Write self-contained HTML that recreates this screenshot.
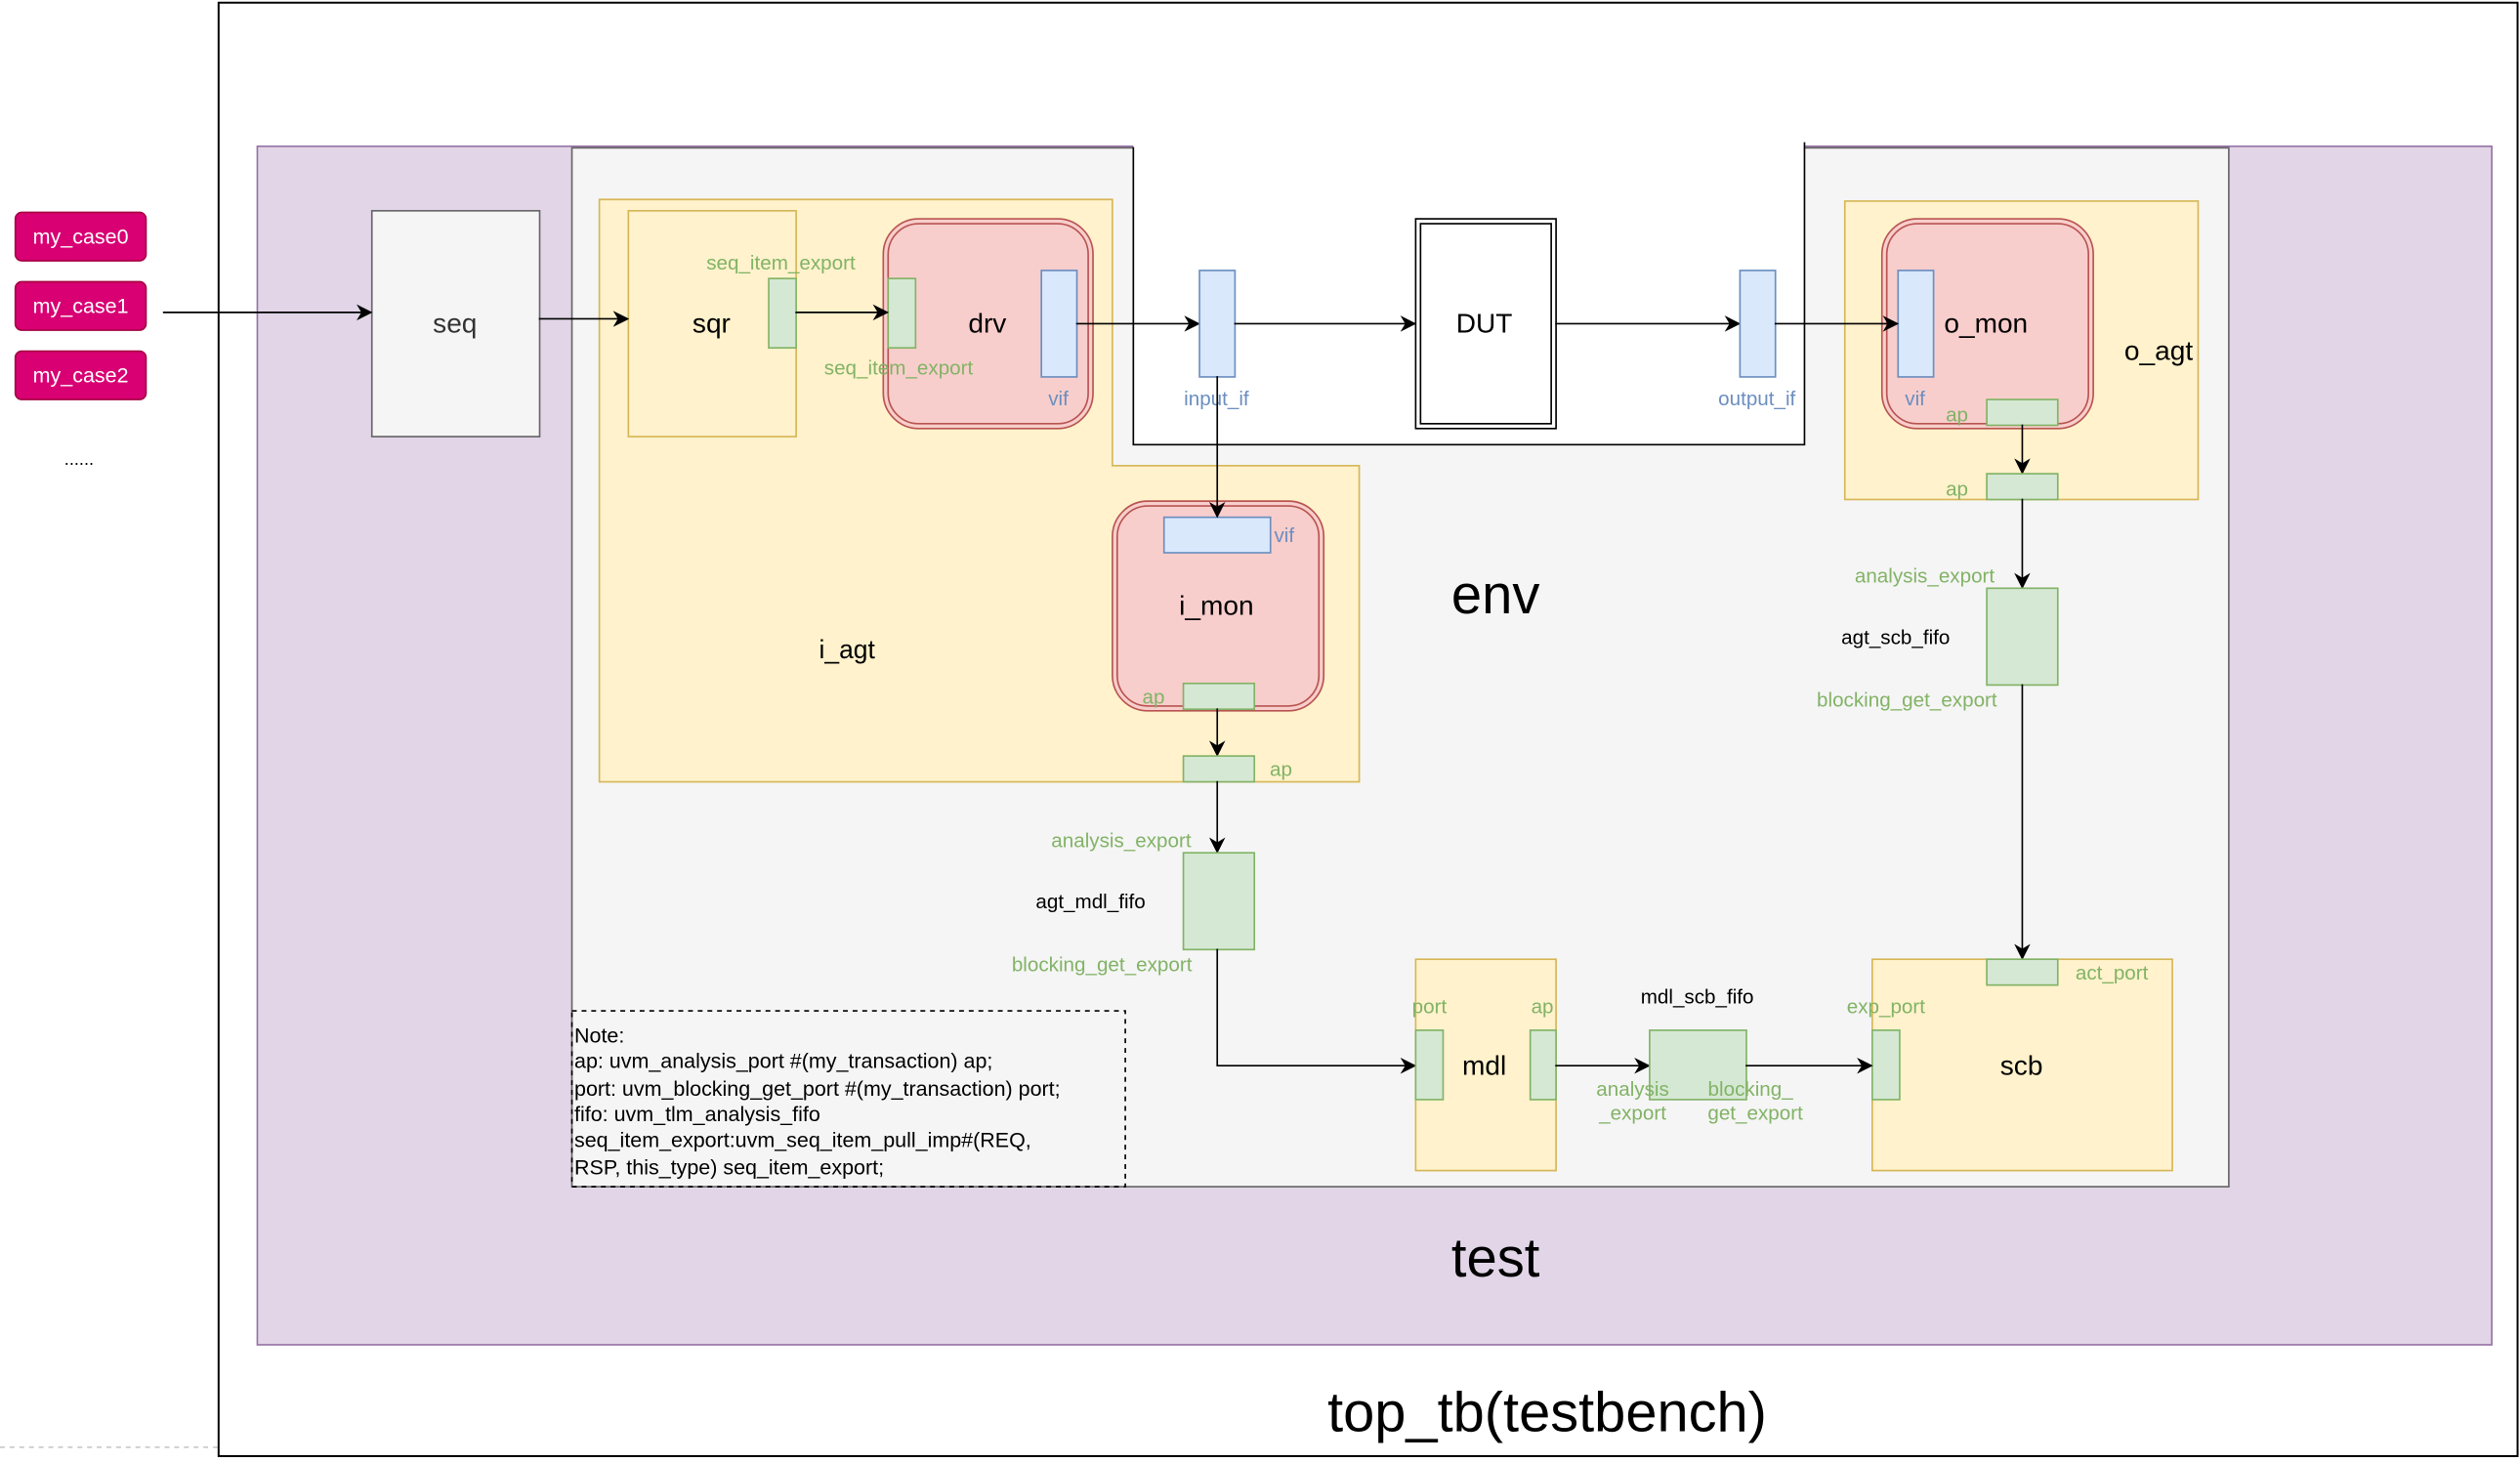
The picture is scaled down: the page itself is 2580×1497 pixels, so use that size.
<!DOCTYPE html>
<html><head><meta charset="utf-8"><style>html,body{margin:0;padding:0;background:#fff}svg{display:block}text{font-family:"Liberation Sans",Arial,sans-serif}</style></head>
<body>
<svg width="2580" height="1497" viewBox="0 0 1562 906" xmlns="http://www.w3.org/2000/svg">
<defs><marker id="a" markerWidth="10" markerHeight="10" refX="9" refY="5" orient="auto" markerUnits="userSpaceOnUse"><path d="M0,0 L10,5 L0,10 L3,5 z" fill="#000"/></marker></defs>
<rect x="0" y="0" width="1562" height="906" fill="#fff"/>
<line x1="0" y1="897" x2="135" y2="897" stroke="#ccc" stroke-dasharray="3,3"/>
<rect x="135.5" y="1.5" width="1425" height="901" fill="#fff" stroke="#000" stroke-width="1.2"/>
<rect x="159.5" y="90.5" width="1385" height="743" fill="#e1d5e7" stroke="#9673a6"/>
<rect x="354.5" y="91.5" width="1027" height="644" fill="#f5f5f5" stroke="#666"/>
<rect x="702.5" y="86" width="416" height="189.5" fill="#fff" stroke="none"/>
<polyline points="702.5,91 702.5,275.5 1118.5,275.5 1118.5,88" fill="none" stroke="#000"/>
<!-- i_agt -->
<polygon points="371.5,123.5 689.5,123.5 689.5,288.5 842.5,288.5 842.5,484.5 371.5,484.5" fill="#fff2cc" stroke="#d6b656"/>
<text x="525" y="408" font-size="16" text-anchor="middle">i_agt</text>
<rect x="389.5" y="130.5" width="104" height="140" fill="#fff2cc" stroke="#d6b656"/>
<text x="441" y="206" font-size="17" text-anchor="middle">sqr</text>
<rect x="230.5" y="130.5" width="104" height="140" fill="#f5f5f5" stroke="#666"/>
<text x="282" y="206" font-size="17" text-anchor="middle" fill="#333">seq</text>
<!-- my cases -->
<rect x="9.5" y="131.5" width="81" height="30" rx="4" fill="#d80073" stroke="#a50040"/>
<text x="50" y="151" font-size="13" fill="#fff" text-anchor="middle">my_case0</text>
<rect x="9.5" y="174.5" width="81" height="30" rx="4" fill="#d80073" stroke="#a50040"/>
<text x="50" y="194" font-size="13" fill="#fff" text-anchor="middle">my_case1</text>
<rect x="9.5" y="217.5" width="81" height="30" rx="4" fill="#d80073" stroke="#a50040"/>
<text x="50" y="237" font-size="13" fill="#fff" text-anchor="middle">my_case2</text>
<text x="49" y="288" font-size="11" text-anchor="middle">......</text>
<line x1="101" y1="193.5" x2="230" y2="193.5" stroke="#000" marker-end="url(#a)"/>
<line x1="334" y1="197.5" x2="389" y2="197.5" stroke="#000" marker-end="url(#a)"/>
<rect x="476.5" y="172.5" width="17" height="43" fill="#d5e8d4" stroke="#82b366"/>
<text x="484" y="167" font-size="12.5" fill="#82b366" text-anchor="middle">seq_item_export</text>
<!-- drv -->
<rect x="547.5" y="135.5" width="130" height="130" rx="22" fill="#f8cecc" stroke="#b85450"/>
<rect x="550.5" y="138.5" width="124" height="124" rx="19" fill="none" stroke="#b85450"/>
<rect x="550.5" y="172.5" width="17" height="43" fill="#d5e8d4" stroke="#82b366"/>
<text x="557" y="232" font-size="12.5" fill="#82b366" text-anchor="middle">seq_item_export</text>
<rect x="645.5" y="167.5" width="22" height="66" fill="#dae8fc" stroke="#6c8ebf"/>
<text x="656" y="251" font-size="12.5" fill="#6c8ebf" text-anchor="middle">vif</text>
<text x="612" y="206" font-size="17" text-anchor="middle">drv</text>
<line x1="493" y1="193.5" x2="550" y2="193.5" stroke="#000" marker-end="url(#a)"/>
<line x1="667" y1="200.5" x2="743" y2="200.5" stroke="#000" marker-end="url(#a)"/>
<rect x="743.5" y="167.5" width="22" height="66" fill="#dae8fc" stroke="#6c8ebf"/>
<text x="754" y="251" font-size="12.5" fill="#6c8ebf" text-anchor="middle">input_if</text>
<line x1="765" y1="200.5" x2="877" y2="200.5" stroke="#000" marker-end="url(#a)"/>
<rect x="877.5" y="135.5" width="87" height="130" fill="#fff" stroke="#000"/>
<rect x="880.5" y="138.5" width="81" height="124" fill="none" stroke="#000"/>
<text x="920" y="206" font-size="17" text-anchor="middle">DUT</text>
<line x1="964" y1="200.5" x2="1078" y2="200.5" stroke="#000" marker-end="url(#a)"/>
<rect x="1078.5" y="167.5" width="22" height="66" fill="#dae8fc" stroke="#6c8ebf"/>
<text x="1089" y="251" font-size="12.5" fill="#6c8ebf" text-anchor="middle">output_if</text>
<!-- o_agt -->
<rect x="1143.5" y="124.5" width="219" height="185" fill="#fff2cc" stroke="#d6b656"/>
<text x="1338" y="223" font-size="17" text-anchor="middle">o_agt</text>
<rect x="1166.5" y="135.5" width="131" height="130" rx="22" fill="#f8cecc" stroke="#b85450"/>
<rect x="1169.5" y="138.5" width="125" height="124" rx="19" fill="none" stroke="#b85450"/>
<rect x="1176.5" y="167.5" width="22" height="66" fill="#dae8fc" stroke="#6c8ebf"/>
<text x="1187" y="251" font-size="12.5" fill="#6c8ebf" text-anchor="middle">vif</text>
<text x="1231" y="206" font-size="17" text-anchor="middle">o_mon</text>
<line x1="1100" y1="200.5" x2="1176" y2="200.5" stroke="#000" marker-end="url(#a)"/>
<rect x="1231.5" y="247.5" width="44" height="16" fill="#d5e8d4" stroke="#82b366"/>
<text x="1213" y="261" font-size="12.5" fill="#82b366" text-anchor="middle">ap</text>
<line x1="1253.5" y1="263" x2="1253.5" y2="293" stroke="#000" marker-end="url(#a)"/>
<rect x="1231.5" y="293.5" width="44" height="16" fill="#d5e8d4" stroke="#82b366"/>
<text x="1213" y="307" font-size="12.5" fill="#82b366" text-anchor="middle">ap</text>
<line x1="1253.5" y1="309" x2="1253.5" y2="364" stroke="#000" marker-end="url(#a)"/>
<rect x="1231.5" y="364.5" width="44" height="60" fill="#d5e8d4" stroke="#82b366"/>
<text x="1193" y="361" font-size="12.5" fill="#82b366" text-anchor="middle">analysis_export</text>
<text x="1175" y="399" font-size="12.5" text-anchor="middle">agt_scb_fifo</text>
<text x="1182" y="438" font-size="12.5" fill="#82b366" text-anchor="middle">blocking_get_export</text>
<line x1="1253.5" y1="424" x2="1253.5" y2="594" stroke="#000" marker-end="url(#a)"/>
<!-- scb -->
<rect x="1160.5" y="594.5" width="186" height="131" fill="#fff2cc" stroke="#d6b656"/>
<rect x="1231.5" y="594.5" width="44" height="16" fill="#d5e8d4" stroke="#82b366"/>
<text x="1309" y="607" font-size="12.5" fill="#82b366" text-anchor="middle">act_port</text>
<rect x="1160.5" y="638.5" width="17" height="43" fill="#d5e8d4" stroke="#82b366"/>
<text x="1169" y="628" font-size="12.5" fill="#82b366" text-anchor="middle">exp_port</text>
<text x="1253" y="666" font-size="17" text-anchor="middle">scb</text>
<!-- i_mon -->
<rect x="689.5" y="310.5" width="131" height="130" rx="22" fill="#f8cecc" stroke="#b85450"/>
<rect x="692.5" y="313.5" width="125" height="124" rx="19" fill="none" stroke="#b85450"/>
<rect x="721.5" y="320.5" width="66" height="22" fill="#dae8fc" stroke="#6c8ebf"/>
<text x="796" y="336" font-size="12.5" fill="#6c8ebf" text-anchor="middle">vif</text>
<text x="754" y="381" font-size="17" text-anchor="middle">i_mon</text>
<rect x="733.5" y="423.5" width="44" height="16" fill="#d5e8d4" stroke="#82b366"/>
<text x="715" y="436" font-size="12.5" fill="#82b366" text-anchor="middle">ap</text>
<line x1="754.5" y1="233" x2="754.5" y2="320" stroke="#000" marker-end="url(#a)"/>
<line x1="754.5" y1="439" x2="754.5" y2="468" stroke="#000" marker-end="url(#a)"/>
<rect x="733.5" y="468.5" width="44" height="16" fill="#d5e8d4" stroke="#82b366"/>
<text x="794" y="481" font-size="12.5" fill="#82b366" text-anchor="middle">ap</text>
<text x="927" y="380" font-size="34" text-anchor="middle">env</text>
<line x1="754.5" y1="484" x2="754.5" y2="528" stroke="#000" marker-end="url(#a)"/>
<rect x="733.5" y="528.5" width="44" height="60" fill="#d5e8d4" stroke="#82b366"/>
<text x="695" y="525" font-size="12.5" fill="#82b366" text-anchor="middle">analysis_export</text>
<text x="676" y="563" font-size="12.5" text-anchor="middle">agt_mdl_fifo</text>
<text x="683" y="602" font-size="12.5" fill="#82b366" text-anchor="middle">blocking_get_export</text>
<polyline points="754.5,588 754.5,660.5 877,660.5" fill="none" stroke="#000" marker-end="url(#a)"/>
<!-- mdl -->
<rect x="877.5" y="594.5" width="87" height="131" fill="#fff2cc" stroke="#d6b656"/>
<rect x="877.5" y="638.5" width="17" height="43" fill="#d5e8d4" stroke="#82b366"/>
<text x="886" y="628" font-size="12.5" fill="#82b366" text-anchor="middle">port</text>
<rect x="948.5" y="638.5" width="16" height="43" fill="#d5e8d4" stroke="#82b366"/>
<text x="956" y="628" font-size="12.5" fill="#82b366" text-anchor="middle">ap</text>
<text x="920" y="666" font-size="17" text-anchor="middle">mdl</text>
<line x1="964" y1="660.5" x2="1022" y2="660.5" stroke="#000" marker-end="url(#a)"/>
<rect x="1022.5" y="638.5" width="60" height="43" fill="#d5e8d4" stroke="#82b366"/>
<text x="1052" y="622" font-size="12.5" text-anchor="middle">mdl_scb_fifo</text>
<text x="1012" y="679" font-size="12.5" fill="#82b366" text-anchor="middle">analysis</text>
<text x="1012" y="694" font-size="12.5" fill="#82b366" text-anchor="middle">_export</text>
<text x="1085" y="679" font-size="12.5" fill="#82b366" text-anchor="middle">blocking_</text>
<text x="1088" y="694" font-size="12.5" fill="#82b366" text-anchor="middle">get_export</text>
<line x1="1082" y1="660.5" x2="1160" y2="660.5" stroke="#000" marker-end="url(#a)"/>
<!-- note -->
<rect x="354.5" y="626.5" width="343" height="109" fill="none" stroke="#000" stroke-dasharray="3,3"/>
<g font-size="13" xml:space="preserve" style="white-space:pre">
<text x="356" y="646">Note:</text>
<text x="356" y="662">ap: uvm_analysis_port #(my_transaction)  ap;</text>
<text x="356" y="679">port: uvm_blocking_get_port #(my_transaction)  port;</text>
<text x="356" y="695">fifo: uvm_tlm_analysis_fifo</text>
<text x="356" y="711">seq_item_export:uvm_seq_item_pull_imp#(REQ,</text>
<text x="356" y="728">RSP, this_type) seq_item_export;</text>
</g>
<text x="927" y="791" font-size="34" text-anchor="middle">test</text>
<text x="959" y="887" font-size="35" text-anchor="middle">top_tb(testbench)</text>
</svg>
</body></html>
